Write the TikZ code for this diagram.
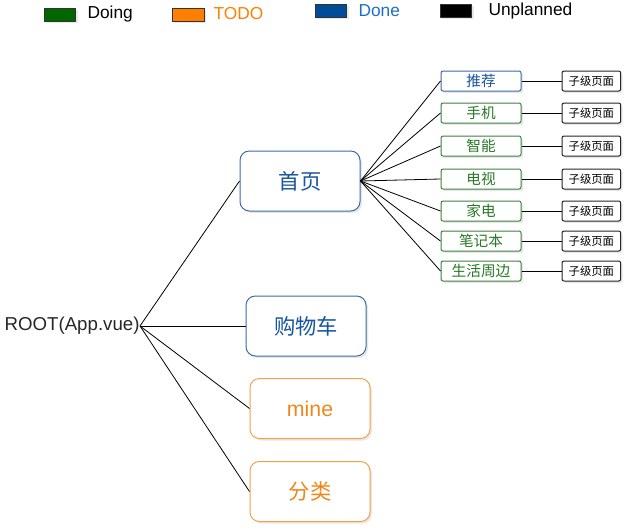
\documentclass[tikz,border=0pt]{standalone}
\usepackage{fontspec}
\setmainfont{Liberation Sans}
\newfontfamily\cjk{Noto Sans CJK SC}
\usetikzlibrary{shadows}

\definecolor{doingc}{RGB}{0,102,0}
\definecolor{todoc}{RGB}{255,128,0}
\definecolor{donec}{RGB}{0,76,153}
\definecolor{donetxt}{RGB}{30,110,200}
\definecolor{blueline}{RGB}{60,105,165}
\definecolor{bluetxt}{RGB}{25,85,160}
\definecolor{orangeline}{RGB}{245,160,70}
\definecolor{orangetxt}{RGB}{240,135,25}
\definecolor{greenline}{RGB}{60,130,60}
\definecolor{greentxt}{RGB}{40,120,40}

\tikzset{every picture/.style={line width=0.75pt}}
\tikzset{
  soft/.style={drop shadow={opacity=0.18,shadow xshift=1.5pt,shadow yshift=-1.5pt}},
  swatch/.style={draw=black!80,minimum width=23.5pt,minimum height=9.75pt,inner sep=0pt,soft},
  legtext/.style={anchor=west,inner sep=0pt,font=\fontsize{13}{15}\selectfont},
  bigbox/.style={rounded corners=7pt,fill=white,minimum width=90pt,minimum height=45pt,inner sep=0pt,font=\fontsize{16}{18}\selectfont,soft},
  donebox/.style={bigbox,draw=blueline,text=bluetxt},
  todobox/.style={bigbox,draw=orangeline,text=orangetxt},
  itembox/.style={rounded corners=1.5pt,fill=white,minimum width=60pt,minimum height=15pt,inner sep=0pt,font=\cjk\fontsize{11}{13}\selectfont,soft},
  subbox/.style={draw=black!85,rounded corners=1.5pt,fill=white,minimum width=44pt,minimum height=15pt,inner sep=0pt,font=\cjk\fontsize{8.5}{10}\selectfont,soft},
  link/.style={draw=black,line width=0.6pt}
}

\begin{document}
\begin{tikzpicture}[x=0.75pt,y=0.75pt,yscale=-1,xscale=1]
	\useasboundingbox (0,0) rectangle (632,532);
	
	% Legend
	\node [swatch,fill=doingc] (lgdoing) at (60,14.5) {};
	\node [legtext] (lgdoingt) at (87,14) {Doing};
	\node [swatch,fill=todoc] (lgtodo) at (188.5,14.5) {};
	\node [legtext,text=todoc] (lgtodot) at (213,14) {TODO};
	\node [swatch,fill=donec] (lgdone) at (331,10.5) {};
	\node [legtext,text=donetxt] (lgdonet) at (358,11) {Done};
	\node [swatch,fill=black] (lgunpl) at (456,10.5) {};
	\node [legtext] (lgunplt) at (488,11) {Unplanned};
	
	% Root
	\node [anchor=east,inner sep=0pt,font=\fontsize{14}{16}\selectfont,text=black!85] (root) at (140,326) {ROOT(App.vue)};
	
	% First level
	\node [donebox,font=\cjk\fontsize{16}{18}\selectfont] (shouye) at (300,181) {首页};
	\node [donebox,font=\cjk\fontsize{16}{18}\selectfont] (cart) at (306,326) {购物车};
	\node [todobox] (mine) at (310,408.5) {mine};
	\node [todobox,font=\cjk\fontsize{16}{18}\selectfont] (fenlei) at (310,491.5) {分类};
	
	% Second level
	\node [itembox,draw=blueline,text=bluetxt] (tuijian) at (481,81) {推荐};
	\node [itembox,draw=greenline,text=greentxt] (shouji) at (481,113) {手机};
	\node [itembox,draw=greenline,text=greentxt] (zhineng) at (481,146) {智能};
	\node [itembox,draw=greenline,text=greentxt] (dianshi) at (481,179) {电视};
	\node [itembox,draw=greenline,text=greentxt] (jiadian) at (481,211) {家电};
	\node [itembox,draw=greenline,text=greentxt] (bijiben) at (481,241) {笔记本};
	\node [itembox,draw=greenline,text=greentxt] (shenghuo) at (481,271) {生活周边};
	
	% Sub pages
	\foreach \n in {tuijian,shouji,zhineng,dianshi,jiadian,bijiben,shenghuo}{
		\node [subbox,anchor=west] (sub\n) at ([xshift=30pt]\n.east) {子级页面};
		\path [link] (\n.east) -- (sub\n.west);
		\path [link] (shouye.east) -- (\n.west);
	}
	
	% Root links
	\foreach \n in {shouye,cart,mine,fenlei}
		\path [link] (root.east) -- (\n.west);
	
\end{tikzpicture}
\end{document}
